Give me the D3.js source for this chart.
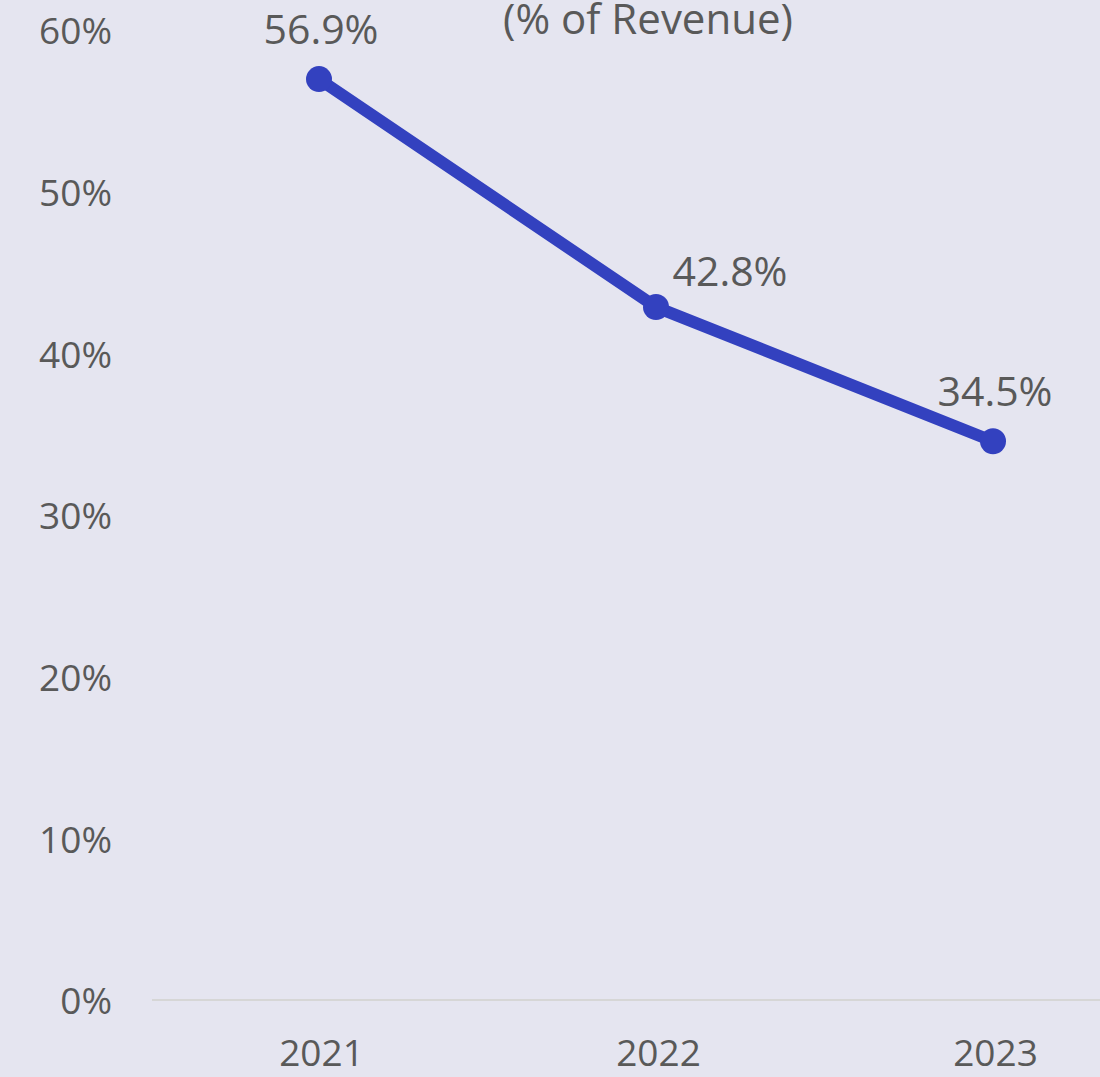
<!DOCTYPE html>
<html>
<head>
<meta charset="utf-8">
<script src="https://cdn.jsdelivr.net/npm/d3@7"></script>
<style>
  html, body { margin: 0; padding: 0; background: #E5E5F0; }
  svg { display: block; }
</style>
</head>
<body>
<svg id="chart" width="1100" height="1077"></svg>
<script>
const years = ["2021", "2022", "2023"];
const values = [56.9, 42.8, 34.5];
const yTicks = [0, 10, 20, 30, 40, 50, 60];
const titleLines = ["(% of Revenue)"];

const W = 1100, H = 1077;
const svg = d3.select("#chart");
svg.append("rect").attr("width", W).attr("height", H).attr("fill", "#E5E5F0");

const font = "'Open Sans', 'Noto Sans', sans-serif";
const textColor = "#595959";

const x = d3.scalePoint().domain(years).range([319, 993]);
const y = d3.scaleLinear().domain([0, 60]).range([999, 29]);

// baseline
svg.append("line")
  .attr("x1", 152).attr("x2", W)
  .attr("y1", y(0) + 1).attr("y2", y(0) + 1)
  .attr("stroke", "#D6D6D6").attr("stroke-width", 2);

// y axis labels
const yAxis = d3.axisLeft(y).tickValues(yTicks).tickFormat(d => d + "%").tickSize(0).tickPadding(0);
const gy = svg.append("g").attr("transform", "translate(112,2)").call(yAxis);
gy.select(".domain").remove();
gy.selectAll("text")
  .attr("font-family", font).attr("font-size", 37).attr("fill", textColor)
  .attr("dy", "0.35em");

// x axis labels
const xAxis = d3.axisBottom(x).tickSize(0).tickPadding(0);
const gx = svg.append("g").attr("transform", "translate(2,1066)").call(xAxis);
gx.select(".domain").remove();
gx.selectAll("text")
  .attr("font-family", font).attr("font-size", 37).attr("fill", textColor)
  .attr("dy", 0);

// title
svg.append("g").selectAll("text").data(titleLines).join("text")
  .attr("x", 648).attr("y", 34)
  .attr("text-anchor", "middle")
  .attr("font-family", font).attr("font-size", 42).attr("fill", textColor)
  .text(d => d);

const data = years.map((yr, i) => ({ yr, v: values[i], i }));

// line
svg.append("path")
  .datum(data)
  .attr("fill", "none")
  .attr("stroke", "#3341BF")
  .attr("stroke-width", 12)
  .attr("stroke-linejoin", "round")
  .attr("d", d3.line().x(d => x(d.yr)).y(d => y(d.v)));

// markers
svg.append("g").selectAll("circle").data(data).join("circle")
  .attr("cx", d => x(d.yr)).attr("cy", d => y(d.v)).attr("r", 13)
  .attr("fill", "#3341BF");

// data labels (middle label placed to the right to avoid the line)
svg.append("g").selectAll("text").data(data).join("text")
  .attr("x", d => x(d.yr) + (d.i === 1 ? 74 : 2))
  .attr("y", d => y(d.v) + (d.i === 1 ? -21 : -35))
  .attr("text-anchor", "middle")
  .attr("font-family", font).attr("font-size", 41).attr("fill", textColor)
  .text(d => d.v.toFixed(1) + "%");
</script>
</body>
</html>
